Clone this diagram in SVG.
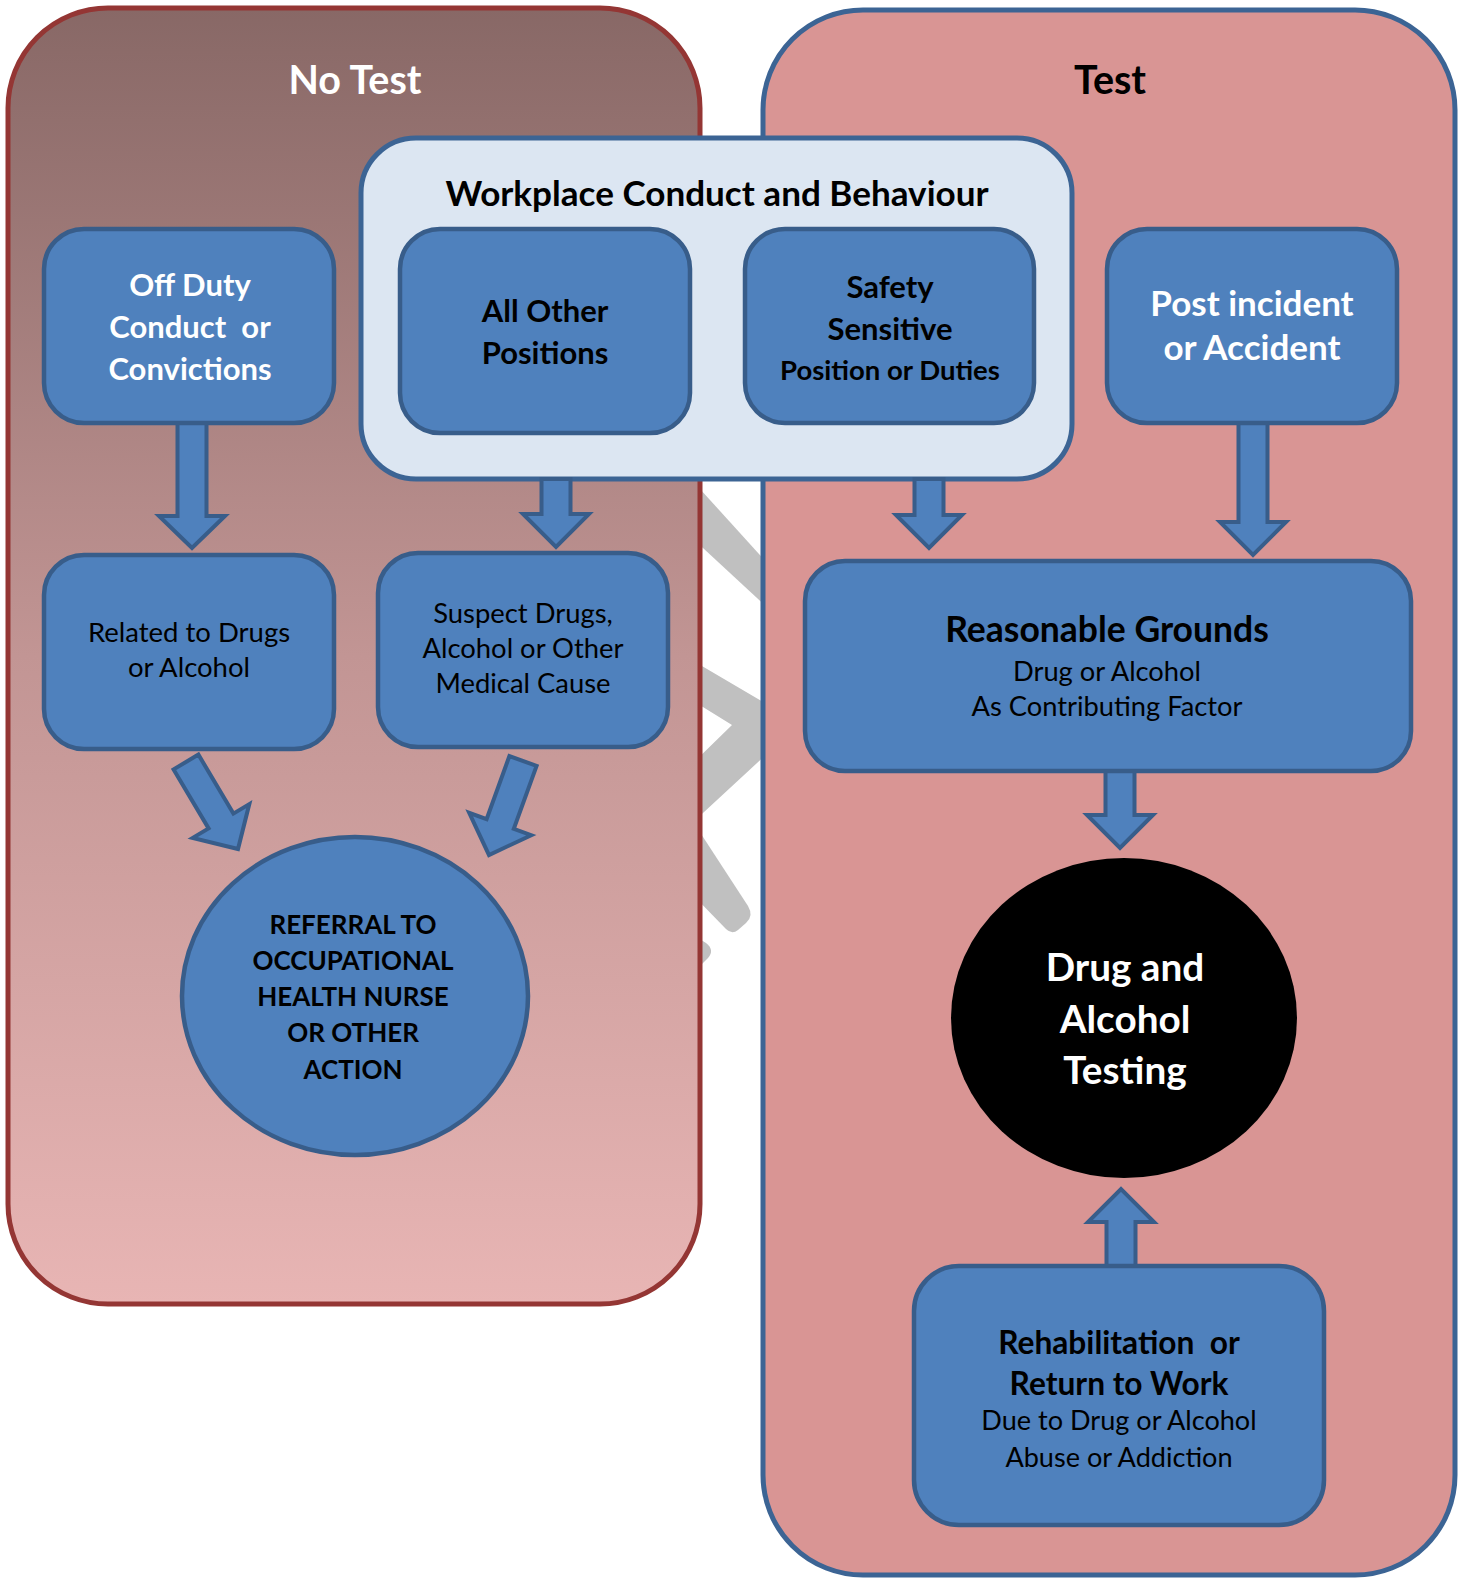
<svg xmlns="http://www.w3.org/2000/svg" width="1465" height="1578" viewBox="0 0 1465 1578">
<defs>
<linearGradient id="gNo" x1="0" y1="0" x2="0" y2="1">
<stop offset="0" stop-color="#886866"/>
<stop offset="0.5" stop-color="#C29594"/>
<stop offset="1" stop-color="#E8B5B4"/>
</linearGradient>
<style>
.t{font-family:Lato,"Liberation Sans",sans-serif;text-anchor:middle}
.b{font-weight:bold}
.w{fill:#FFFFFF}
.k{fill:#000000}
.box{fill:#4F81BD;stroke:#385D8A;stroke-width:4.5}
.arr{fill:#4F81BD;stroke:#385D8A;stroke-width:4;stroke-linejoin:miter}
.grey{fill:#C0C0C0}
</style>
</defs>
<rect width="1465" height="1578" fill="#FFFFFF"/>
<g id="background-shape">
<polygon class="grey" points="690,478 770,566 770,610 690,536"/>
<polygon class="grey" points="690,659 770,706 770,751 690,825 690,766 732,725 690,699"/>
<path class="grey" d="M690,817 L748,906 Q754,916 746,923 L738,930 Q732,935 726,929 L690,892 Z"/>
<path class="grey" d="M690,933 L706,943 Q715,950 708,958 L690,976 Z"/>
</g>
<g id="panel-no-test">
<rect x="8" y="8" width="692" height="1296" rx="100" ry="100" fill="url(#gNo)" stroke="#943634" stroke-width="5"/>
<text class="t b w" x="355" y="94" font-size="39.5">No Test</text>
</g>
<g id="panel-test">
<rect x="763" y="10" width="692" height="1565" rx="100" ry="100" fill="#D99594" stroke="#3C6494" stroke-width="5"/>
<text class="t b k" x="1110" y="94" font-size="39.5">Test</text>
</g>
<g id="workplace-group">
<rect x="361" y="138" width="711" height="341" rx="55" ry="55" fill="#DCE6F2" stroke="#3C6494" stroke-width="5"/>
<text class="t b k" x="717" y="206" font-size="35.1">Workplace Conduct and Behaviour</text>
</g>
<g id="connectors">
<polygon class="arr" points="177.5,423 206.5,423 206.5,516 225,516 192,548 159,516 177.5,516"/>
<polygon class="arr" points="541.5,479 570.5,479 570.5,514 589,514 556,547 523,514 541.5,514"/>
<polygon class="arr" points="914.5,479 943.5,479 943.5,515 962,515 929,548 896,515 914.5,515"/>
<polygon class="arr" points="1238.5,423 1267.5,423 1267.5,522 1286,522 1253,555 1220,522 1238.5,522"/>
<polygon class="arr" points="1105.5,771 1134.5,771 1134.5,815 1153,815 1120,848 1087,815 1105.5,815"/>
<polygon class="arr" points="1106.5,1266 1135.5,1266 1135.5,1222 1154,1222 1121,1189 1088,1222 1106.5,1222"/>
<polygon class="arr" points="198.4,754.6 233.4,813.6 249.3,804.1 238,849 192.7,837.9 208.6,828.4 173.6,769.4"/>
<polygon class="arr" points="536.6,765.9 513.8,828.9 531.2,835.2 489,855 469.2,812.8 486.6,819.1 509.4,756.1"/>
</g>
<g id="node-off-duty">
<rect class="box" x="44" y="229" width="290" height="194" rx="40" ry="40"/>
<text class="t b w" x="190" y="296" font-size="31">Off Duty</text>
<text class="t b w" x="190" y="338" font-size="31" xml:space="preserve">Conduct  or</text>
<text class="t b w" x="190" y="380" font-size="31">Convictions</text>
</g>
<g id="node-all-other">
<rect class="box" x="400" y="229" width="290" height="204" rx="40" ry="40"/>
<text class="t b k" x="545" y="322" font-size="31">All Other</text>
<text class="t b k" x="545" y="364" font-size="31">Positions</text>
</g>
<g id="node-safety">
<rect class="box" x="745" y="229" width="289" height="194" rx="40" ry="40"/>
<text class="t b k" x="890" y="298" font-size="31">Safety</text>
<text class="t b k" x="890" y="340" font-size="31">Sensitive</text>
<text class="t b k" x="890" y="380" font-size="27.5">Position or Duties</text>
</g>
<g id="node-post-incident">
<rect class="box" x="1107" y="229" width="290" height="194" rx="40" ry="40"/>
<text class="t b w" x="1252" y="316" font-size="35">Post incident</text>
<text class="t b w" x="1252" y="360" font-size="35">or Accident</text>
</g>
<g id="node-related">
<rect class="box" x="44" y="555" width="290" height="194" rx="40" ry="40"/>
<text class="t k" x="189" y="642" font-size="27.5">Related to Drugs</text>
<text class="t k" x="189" y="677" font-size="27.5">or Alcohol</text>
</g>
<g id="node-suspect">
<rect class="box" x="378" y="553" width="290" height="194" rx="40" ry="40"/>
<text class="t k" x="523" y="623" font-size="27.4">Suspect Drugs,</text>
<text class="t k" x="523" y="658" font-size="27.4">Alcohol or Other</text>
<text class="t k" x="523" y="693" font-size="27.4">Medical Cause</text>
</g>
<g id="node-reasonable">
<rect class="box" x="805" y="561" width="606" height="210" rx="40" ry="40"/>
<text class="t b k" x="1107" y="642" font-size="35.5">Reasonable Grounds</text>
<text class="t k" x="1107" y="681" font-size="27.3">Drug or Alcohol</text>
<text class="t k" x="1107" y="716" font-size="27.3">As Contributing Factor</text>
</g>
<g id="node-referral">
<ellipse cx="355" cy="996" rx="173" ry="159" fill="#4F81BD" stroke="#385D8A" stroke-width="4.5"/>
<text class="t b k" x="353" y="934" font-size="26">REFERRAL TO</text>
<text class="t b k" x="353" y="970" font-size="26">OCCUPATIONAL</text>
<text class="t b k" x="353" y="1006" font-size="26">HEALTH NURSE</text>
<text class="t b k" x="353" y="1042" font-size="26">OR OTHER</text>
<text class="t b k" x="353" y="1079" font-size="26">ACTION</text>
</g>
<g id="node-testing">
<ellipse cx="1124" cy="1018" rx="173" ry="160" fill="#000000"/>
<text class="t b w" x="1125" y="981" font-size="38.7">Drug and</text>
<text class="t b w" x="1125" y="1033" font-size="38.7">Alcohol</text>
<text class="t b w" x="1125" y="1084" font-size="38.7">Testing</text>
</g>
<g id="node-rehab">
<rect class="box" x="914" y="1266" width="410" height="259" rx="45" ry="45"/>
<text class="t b k" x="1119" y="1354" font-size="31.7" xml:space="preserve">Rehabilitation  or</text>
<text class="t b k" x="1119" y="1395" font-size="31.7">Return to Work</text>
<text class="t k" x="1119" y="1430" font-size="27.1">Due to Drug or Alcohol</text>
<text class="t k" x="1119" y="1467" font-size="27.1">Abuse or Addiction</text>
</g>
</svg>
